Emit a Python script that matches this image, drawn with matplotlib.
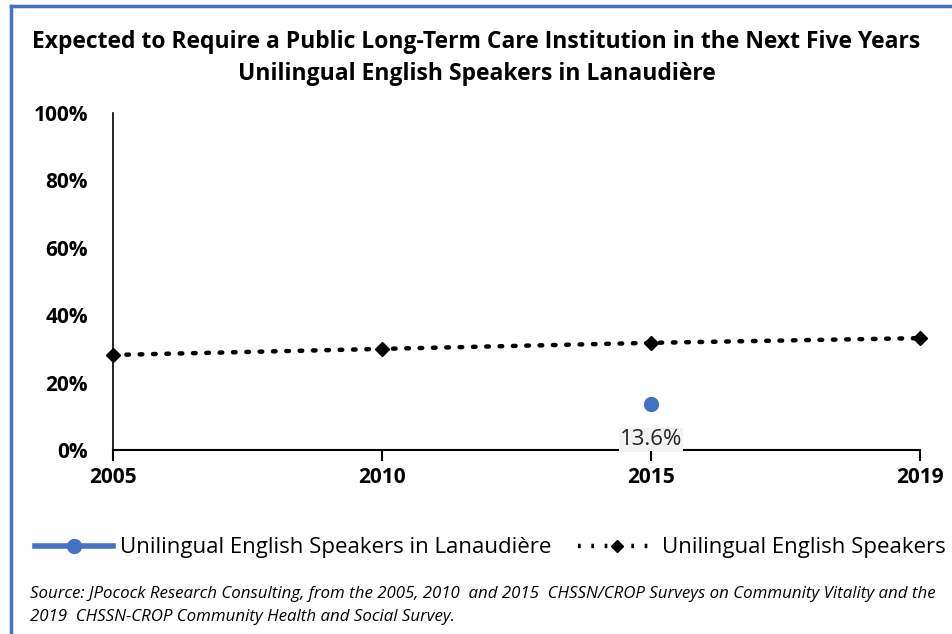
import matplotlib
matplotlib.use("Agg")
import matplotlib.pyplot as plt
from matplotlib import font_manager as fm
from matplotlib.lines import Line2D

names = {f.name for f in fm.fontManager.ttflist}
base = "Liberation Sans Narrow" if "Liberation Sans Narrow" in names else "Open Sans"
plt.rcParams['font.family'] = [base, 'DejaVu Sans']

years = ["2005", "2010", "2015", "2019"]
all_unilingual = [28.2, 30.0, 31.8, 33.2]
lanaudiere_years = ["2015"]
lanaudiere = [13.6]
yticks = [0, 20, 40, 60, 80, 100]

fig = plt.figure(figsize=(9.53, 6.34), dpi=100)
ax = fig.add_axes([113/953, 1-450/634, (920-113)/953, (450-113)/634])

dots = (0, (0.6, 2.4))
xpos = {y: i for i, y in enumerate(years)}
ax.plot([xpos[y] for y in years], all_unilingual, linestyle=dots, linewidth=3.2,
        color="black", marker="D", markersize=7, dash_capstyle="round", zorder=3, clip_on=False)
ax.plot([xpos[y] for y in lanaudiere_years], lanaudiere, linestyle="none", marker="o",
        markersize=10, color="#4472C4", zorder=4, clip_on=False)
for y, v in zip(lanaudiere_years, lanaudiere):
    ax.annotate(f"{v:.1f}%", (xpos[y], v), xytext=(0, -18), textcoords="offset points",
                ha="center", va="top", fontsize=16, color="#222222",
                bbox=dict(boxstyle="square,pad=0.05", fc="#f2f2f2", ec="none"), zorder=5)

ax.set_xlim(0, len(years)-1)
ax.set_ylim(0, 100)
ax.set_yticks(yticks)
ax.set_yticklabels([f"{t}%" for t in yticks], fontsize=15, fontweight="bold")
ax.set_xticks(range(len(years)))
ax.set_xticklabels(years, fontsize=15, fontweight="bold")
ax.tick_params(axis="y", length=0, pad=18)
ax.tick_params(axis="x", length=8, width=1.5, direction="out", pad=4)
for s in ["top", "right"]:
    ax.spines[s].set_visible(False)
ax.spines["left"].set_linewidth(1.2)
ax.spines["bottom"].set_linewidth(1.5)

fig.text(0.5, 1-42/634, "Expected to Require a Public Long-Term Care Institution in the Next Five Years",
         ha="center", va="center", fontsize=16.5, fontweight="bold")
fig.text(0.5, 1-74/634, "Unilingual English Speakers in Lanaudière",
         ha="center", va="center", fontsize=16.5, fontweight="bold")

handles = [Line2D([0], [0], color="#4472C4", linewidth=4, marker="o", markersize=10),
           Line2D([0], [0], color="black", linestyle=dots, linewidth=3.2, marker="D", markersize=6)]
fig.legend(handles, ["Unilingual English Speakers in Lanaudière", "Unilingual English Speakers"],
           loc="center", bbox_to_anchor=(0.515, 1-548/634), ncol=2, frameon=False, fontsize=16,
           handlelength=3.5, columnspacing=1.2, handletextpad=0.3)

fig.text(30/953, 1-594/634, "Source: JPocock Research Consulting, from the 2005, 2010  and 2015  CHSSN/CROP Surveys on Community Vitality and the",
         ha="left", va="center", fontsize=12.2, style="italic")
fig.text(30/953, 1-617/634, "2019  CHSSN-CROP Community Health and Social Survey.",
         ha="left", va="center", fontsize=12.2, style="italic")

fig.add_artist(Line2D([11.5/953, 1], [1-5.5/634, 1-5.5/634], color="#4472C4", linewidth=2.5))
fig.add_artist(Line2D([11.5/953, 11.5/953], [0, 1-5.5/634], color="#4472C4", linewidth=2.5))

fig.savefig("out.png", dpi=100)
